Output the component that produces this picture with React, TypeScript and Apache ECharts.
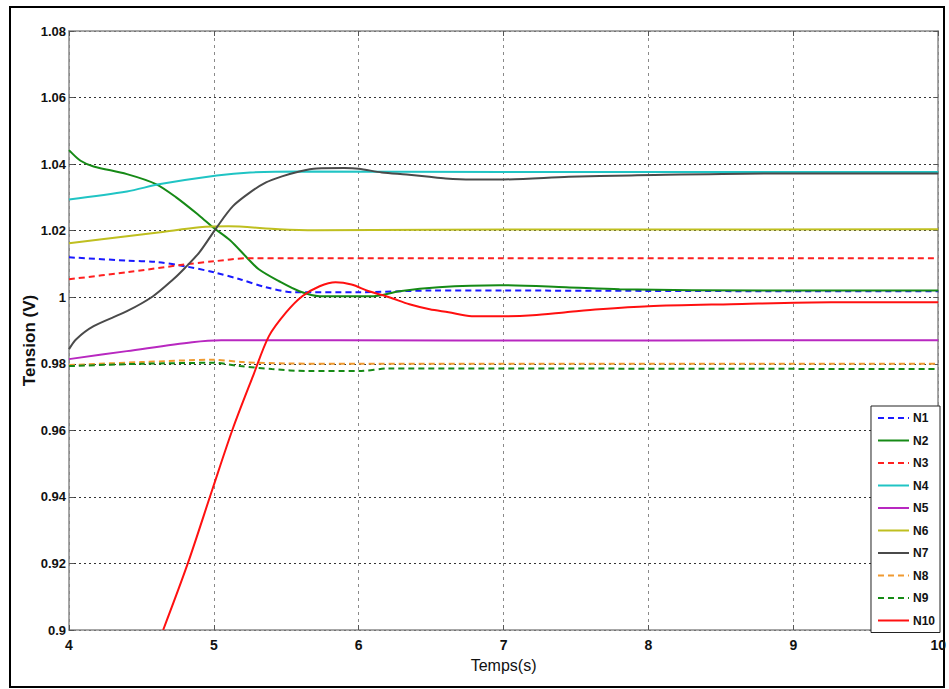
import React, { useEffect, useRef } from "react";
import * as echarts from "echarts";

const names = ["N1", "N2", "N3", "N4", "N5", "N6", "N7", "N8", "N9", "N10"];
const colors = ["#1a1aff", "#168a16", "#ff2020", "#20c4c4", "#b828c0", "#bfbf20", "#4a4a4a", "#f09a30", "#168a16", "#ff1010"];
const dashed = [true, false, true, false, false, false, false, true, true, false];

const n1 = [[4, 1.012], [4.4, 1.011], [4.6, 1.0106], [4.8, 1.0093], [5, 1.0075], [5.18, 1.0054], [5.36, 1.003], [5.55, 1.0015], [6, 1.0015], [6.5, 1.002], [7, 1.002], [8, 1.0019], [9, 1.0018], [10, 1.0018]];
const n2 = [[4, 1.0442], [4.08, 1.041], [4.17, 1.0393], [4.4, 1.037], [4.6, 1.034], [4.74, 1.03], [4.9, 1.0245], [5, 1.0208], [5.11, 1.0172], [5.23, 1.0118], [5.31, 1.0084], [5.45, 1.0048], [5.59, 1.0018], [5.73, 1.0003], [6.1, 1.0003], [6.28, 1.0018], [6.55, 1.003], [6.97, 1.0036], [7.43, 1.003], [7.8, 1.0024], [8.8, 1.002], [10, 1.002]];
const n3 = [[4, 1.0054], [4.4, 1.0075], [4.81, 1.0099], [5, 1.0108], [5.23, 1.0117], [7, 1.0117], [10, 1.0117]];
const n4 = [[4, 1.0294], [4.4, 1.0318], [4.63, 1.034], [5.02, 1.0366], [5.25, 1.0375], [5.59, 1.0378], [7, 1.0376], [10, 1.0376]];
const n5 = [[4, 0.9814], [4.4, 0.9838], [4.85, 0.9865], [5.05, 0.9871], [6.69, 0.987], [10, 0.9871]];
const n6 = [[4, 1.0162], [4.4, 1.0183], [4.63, 1.0195], [4.9, 1.021], [5.1, 1.0213], [5.45, 1.0204], [5.7, 1.0201], [6.5, 1.0203], [10, 1.0204]];
const n7 = [[4, 0.9844], [4.05, 0.9874], [4.17, 0.9913], [4.4, 0.9958], [4.58, 1.0003], [4.72, 1.0054], [4.8, 1.0088], [4.9, 1.0135], [5.02, 1.021], [5.13, 1.0273], [5.25, 1.0315], [5.36, 1.0345], [5.47, 1.0363], [5.59, 1.0378], [5.71, 1.0387], [5.9, 1.0388], [6.0, 1.0386], [6.16, 1.0375], [6.33, 1.0369], [6.47, 1.0363], [6.6, 1.0357], [6.78, 1.0354], [7.0, 1.0354], [7.45, 1.0362], [7.88, 1.0366], [8.9, 1.0372], [10, 1.0372]];
const n8 = [[4, 0.9796], [4.5, 0.9805], [5.0, 0.9812], [5.2, 0.9805], [5.5, 0.9801], [6, 0.98], [10, 0.98]];
const n9 = [[4, 0.9793], [4.5, 0.98], [5.0, 0.9803], [5.18, 0.9793], [5.4, 0.9784], [5.65, 0.9778], [6.0, 0.9778], [6.21, 0.9786], [10, 0.9784]];
const n10 = [[4.65, 0.9], [4.82, 0.92], [4.99, 0.9423], [5.13, 0.9604], [5.27, 0.9763], [5.38, 0.9883], [5.5, 0.9955], [5.61, 1.0003], [5.73, 1.0033], [5.84, 1.0045], [5.95, 1.0038], [6.07, 1.0018], [6.21, 1.0], [6.35, 0.9979], [6.49, 0.9964], [6.62, 0.9955], [6.78, 0.9943], [7.0, 0.9943], [7.2, 0.9946], [7.43, 0.9955], [7.66, 0.9964], [8.0, 0.9973], [8.57, 0.9979], [9.26, 0.9985], [10, 0.9985]];
const seriesData = [n1, n2, n3, n4, n5, n6, n7, n8, n9, n10];

const xTicks = [4, 5, 6, 7, 8, 9, 10];
const yTicks = [0.9, 0.92, 0.94, 0.96, 0.98, 1, 1.02, 1.04, 1.06, 1.08];

const FONT = "'Liberation Sans', Arial, sans-serif";

export default function App() {
  const ref = useRef<HTMLDivElement>(null);
  useEffect(() => {
    const chart = echarts.init(ref.current!, undefined, { renderer: "svg" });
    const axisLine = { show: true, lineStyle: { color: "#8a8a8a", width: 1.5 } };
    const tick = { show: true, inside: true, length: 5, lineStyle: { color: "#555" } };
    chart.setOption({
      animation: false,
      backgroundColor: "#fff",
      grid: { left: 69, right: 9, top: 31, bottom: 59, show: false },
      graphic: [
        { type: "rect", shape: { x: 10, y: 7, width: 934, height: 680 }, style: { fill: "none", stroke: "#000", lineWidth: 2 }, silent: true },
      ],
      legend: {
        orient: "vertical",
        right: 9,
        top: 406,
        padding: [6, 5, 6, 6],
        itemGap: 10.5,
        itemWidth: 31,
        itemHeight: 14,
        backgroundColor: "#fff",
        borderColor: "#222",
        borderWidth: 1,
        itemStyle: { opacity: 0 },
        textStyle: { fontFamily: FONT, fontWeight: "bold", fontSize: 12, color: "#111", padding: [0, 0, 0, -1] },
        data: names,
      },
      xAxis: [
        {
          type: "value",
          min: xTicks[0],
          max: xTicks[xTicks.length - 1],
          interval: 1,
          name: "Temps(s)",
          nameLocation: "middle",
          nameGap: 27,
          nameMoveOverlap: false,
          nameTextStyle: { fontFamily: FONT, fontSize: 16, color: "#111" },
          axisLine,
          axisTick: tick,
          axisLabel: { fontFamily: FONT, fontWeight: "bold", fontSize: 14, color: "#111", margin: 8 },
          splitLine: { show: true, lineStyle: { color: "#8a8a8a", type: [3, 4], width: 1 } },
        },
        {
          type: "value",
          position: "top",
          min: xTicks[0],
          max: xTicks[xTicks.length - 1],
          interval: 1,
          axisLine,
          axisTick: tick,
          axisLabel: { show: false },
          splitLine: { show: false },
        },
      ],
      yAxis: [
        {
          type: "value",
          min: yTicks[0],
          max: yTicks[yTicks.length - 1],
          interval: 0.02,
          name: "Tension (V)",
          nameLocation: "middle",
          nameGap: 31,
          nameMoveOverlap: false,
          nameTextStyle: { fontFamily: FONT, fontWeight: "bold", fontSize: 17, color: "#111", padding: [0, 20, 0, 0] },
          axisLine,
          axisTick: tick,
          axisLabel: {
            fontFamily: FONT,
            fontWeight: "bold",
            fontSize: 13,
            color: "#111",
            margin: 3,
            formatter: (v: number) => String(+v.toFixed(2)),
          },
          splitLine: { show: true, lineStyle: { color: "#333", type: [2, 3], width: 1 } },
        },
        {
          type: "value",
          position: "right",
          min: yTicks[0],
          max: yTicks[yTicks.length - 1],
          interval: 0.02,
          axisLine,
          axisTick: tick,
          axisLabel: { show: false },
          splitLine: { show: false },
        },
      ],
      series: names.map((n, i) => ({
        name: n,
        type: "line",
        data: seriesData[i],
        showSymbol: false,
        symbol: "circle",
        smooth: 0.3,
        clip: true,
        z: i === 9 ? 5 : 3,
        lineStyle: { color: colors[i], width: 2, type: dashed[i] ? [6, 4] : "solid" },
        itemStyle: { color: colors[i] },
      })),
    });
    return () => chart.dispose();
  }, []);
  return <div ref={ref} style={{ position: "fixed", left: 0, top: 0, width: 949, height: 689 }} />;
}
